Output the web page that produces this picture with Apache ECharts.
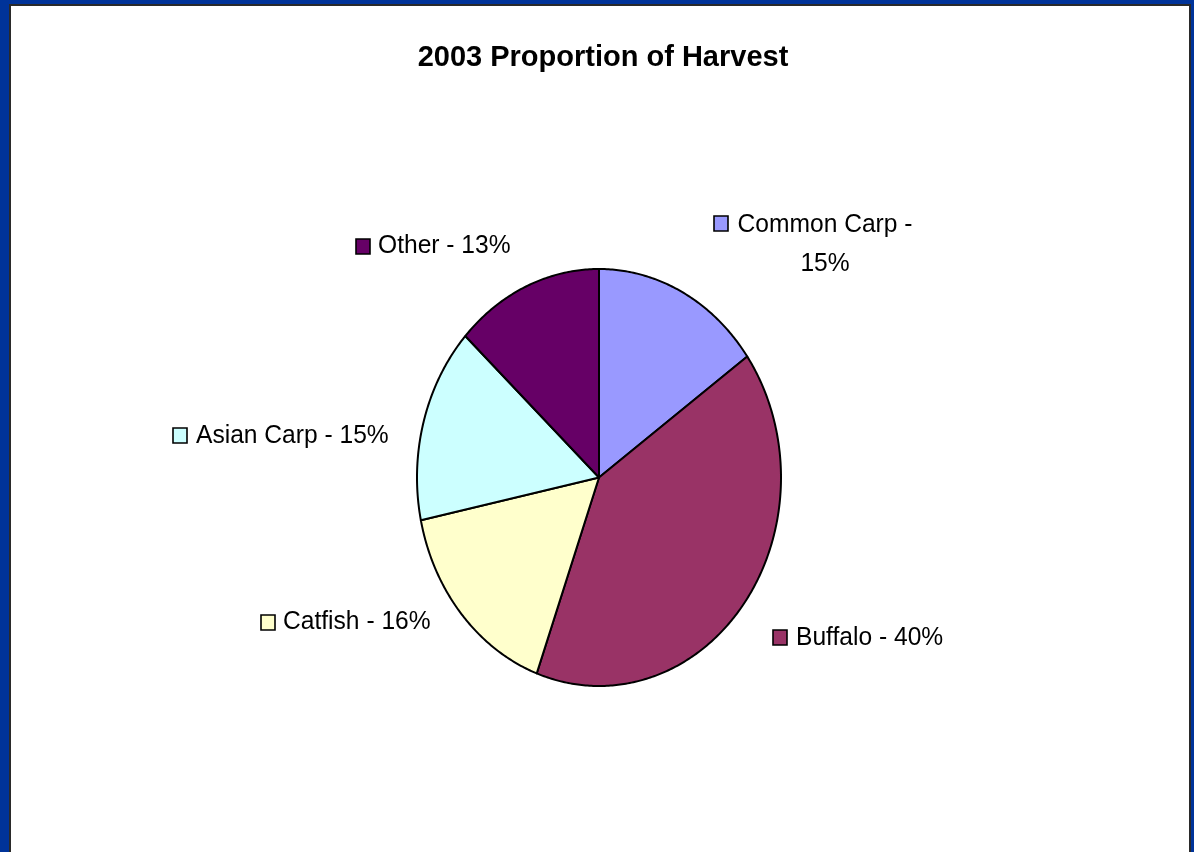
<!DOCTYPE html>
<html>
<head>
<meta charset="utf-8">
<script src="https://cdn.jsdelivr.net/npm/echarts@6/dist/echarts.min.js"></script>
<style>
  html, body { margin: 0; padding: 0; width: 1194px; height: 852px; overflow: hidden; background: #003399; }
  #frame { position: absolute; left: 9px; top: 4px; width: 1178px; height: 900px; background: #ffffff; border-left: 2px solid #2a2a2a; border-top: 2px solid #2a2a2a; border-right: 2px solid #2a2a2a; }
  #chart { position: absolute; left: 0; top: 0; width: 1194px; height: 852px; }
</style>
</head>
<body>
<div id="frame"></div>
<div id="chart"></div>
<script>
// ---- data ----
const titleText = '2003 Proportion of Harvest';
const categories = ['Common Carp', 'Buffalo', 'Catfish', 'Asian Carp', 'Other'];
const values = [15, 40, 16, 15, 13];           // percent of harvest
const colors = ['#9999FF', '#993366', '#FFFFCC', '#CCFFFF', '#660066'];

// ---- label layout (pixels) ----
const labelLayout = [
  { bx: 714, by: 224, tx: 825, ty: 224, center: true },
  { bx: 773, by: 638, tx: 796, ty: 638 },
  { bx: 261, by: 623, tx: 283, ty: 622 },
  { bx: 173, by: 436, tx: 196, ty: 436 },
  { bx: 356, by: 247, tx: 378, ty: 246 }
];

const total = values.reduce((a, b) => a + b, 0);
const starts = [];
values.reduce((acc, v) => { starts.push(acc); return acc + v; }, 0);

const labelFont = '"Liberation Sans", Arial, sans-serif';
const textStretch = 1.08;

function renderItem(params, api) {
  const i = params.dataIndex;
  const v = api.value(0);
  const s = starts[i];
  const N = Math.max(8, Math.round(v * 6));
  const pts = [api.coord([0, 0])];
  for (let k = 0; k <= N; k++) {
    const a = 2 * Math.PI * (s + v * k / N) / total;
    pts.push(api.coord([Math.sin(a), Math.cos(a)]));
  }
  const L = labelLayout[i];
  const name = categories[i];
  const pct = v + '%';
  const labelText = L.center ? (name + ' -\n' + pct) : (name + ' - ' + pct);
  const ty = L.center ? L.ty - 19 : L.ty;
  return {
    type: 'group',
    children: [
      {
        type: 'polygon',
        shape: { points: pts },
        style: { fill: colors[i], stroke: '#000', lineWidth: 2, lineJoin: 'round' }
      },
      {
        type: 'rect',
        shape: { x: L.bx, y: L.by - 8, width: 14, height: 15 },
        style: { fill: colors[i], stroke: '#000', lineWidth: 1.6 }
      },
      {
        type: 'text',
        x: L.tx,
        y: ty,
        scaleY: textStretch,
        originX: 0,
        originY: 0,
        style: {
          text: labelText,
          fill: '#000',
          fontSize: 24.6,
          fontFamily: labelFont,
          lineHeight: 36,
          align: L.center ? 'center' : 'left',
          verticalAlign: L.center ? 'top' : 'middle'
        }
      }
    ]
  };
}

const chart = echarts.init(document.getElementById('chart'), null, { renderer: 'canvas' });
chart.setOption({
  backgroundColor: 'transparent',
  animation: false,
  title: {
    text: titleText,
    left: 598,
    top: 53,
    textAlign: 'center',
    textVerticalAlign: 'middle',
    textStyle: { fontSize: 29, fontWeight: 'bold', color: '#000', fontFamily: labelFont }
  },
  grid: { left: 417, top: 269, width: 364, height: 417 },
  xAxis: { type: 'value', min: -1, max: 1, show: false },
  yAxis: { type: 'value', min: -1, max: 1, show: false },
  series: [{
    type: 'custom',
    silent: true,
    renderItem: renderItem,
    data: values.map((v, i) => ({ name: categories[i], value: [v] }))
  }]
});
</script>
</body>
</html>
